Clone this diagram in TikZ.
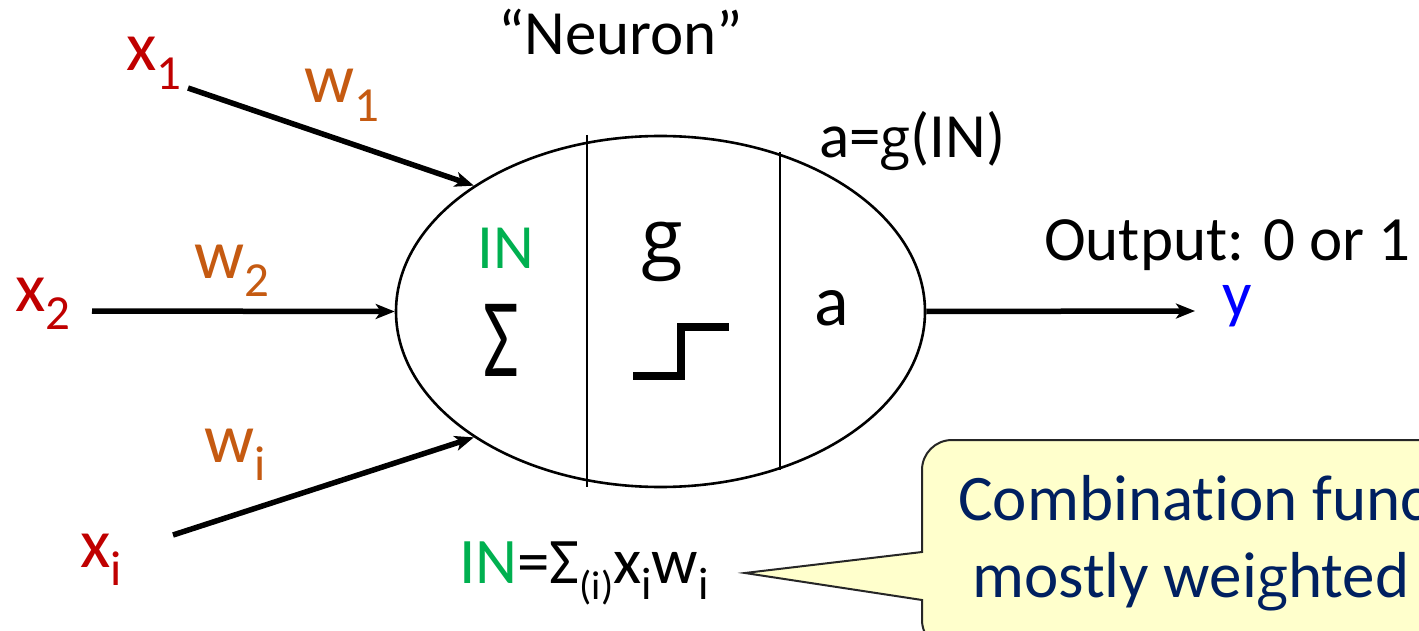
\documentclass[tikz,border=0pt]{standalone}
\usepackage{fontspec}
\setmainfont{Carlito}[Ligatures=NoCommon]
\newfontfamily\gfont{Open Sans}
\usetikzlibrary{arrows.meta,shapes.geometric}
\definecolor{inred}{HTML}{C00000}
\definecolor{wgt}{HTML}{C55A11}
\definecolor{ingreen}{HTML}{00B050}
\definecolor{outblue}{HTML}{0000FF}
\definecolor{navy}{HTML}{002060}
\definecolor{callfill}{HTML}{FFFFCC}
\newcommand\lowsub[2][0.7]{\raisebox{-0.26em}{\scalebox{#1}{#2}}}
\newcommand\twostoryg{{\gfont\scalebox{0.87}{g}}}
\tikzset{
  txt/.style={inner sep=0pt, anchor=base west, font=\fontsize{63}{75}\selectfont},
  lbl/.style={inner sep=0pt, anchor=base west, font=\fontsize{70}{84}\selectfont},
  big/.style={inner sep=0pt, anchor=base},
  arr/.style={line width=5.5pt, -{Stealth[length=19pt,width=15pt,inset=5pt]}},
  divider/.style={line width=2pt},
  callout/.style={draw=black!85, line width=2pt, fill=callfill},
  calltxt/.style={inner sep=0pt, anchor=base west, text=navy, font=\fontsize{65}{78}\selectfont},
}
\begin{document}
\begin{tikzpicture}[x=1pt,y=-1pt]
\useasboundingbox (0,0) rectangle (1419,631);
\clip (0,0) rectangle (1419,631);
\fill[white] (0,0) rectangle (1419,631);

% neuron body
\node[draw, line width=2.6pt, ellipse, minimum width=529pt, minimum height=351pt, inner sep=0pt] (neuron) at (660.5,311.5) {};
\draw[divider] (587,135) -- (587,487);
\draw[divider] (780,152) -- (780,470);

% inside texts
\node[txt, text=ingreen, font=\fontsize{63}{75}\selectfont] (inlbl) at (477,269) {IN};
\node[big, font=\fontsize{90}{100}\selectfont] (sigma) at (501,376) {\scalebox{0.86}[1.25]{Σ}};
\node[big, font=\gfont\fontsize{76}{90}\selectfont] (glbl) at (662,263) {g};
\node[big, font=\fontsize{72}{86}\selectfont] (albl) at (832,325) {a};
\draw[line width=8pt] (633,376) -- (681,376) -- (681,327) -- (729,327);

% headings
\node[txt] (title) at (498,55) {“Neuron”};
\node[txt] (aeq) at (819,158) {a=\twostoryg(IN)};
\node[txt] (outlbl) at (1044,260) {Output: 0 or 1};
\node[txt, text=outblue, font=\fontsize{65}{78}\selectfont] (ylbl) at (1222,316) {y};

% inputs
\node[lbl, text=inred] (x1) at (126,71) {x\lowsub{1}};
\node[lbl, text=inred] (x2) at (15,311) {x\lowsub{2}};
\node[lbl, text=inred] (xi) at (80,567) {x\lowsub{i}};
\node[lbl, text=wgt] (w1) at (304,103) {w\lowsub{1}};
\node[lbl, text=wgt] (w2) at (194,278) {w\lowsub{2}};
\node[lbl, text=wgt] (wi) at (204,462) {w\lowsub{i}};

\coordinate (s1) at (188,88);
\coordinate (s2) at (92,311);
\coordinate (si) at (173,535);
\coordinate (yend) at (1195,311);
\draw[arr] (s1) -- (neuron.146);
\draw[arr] (s2) -- (neuron.west);
\draw[arr] (si) -- (neuron.214);
\draw[arr] (neuron.east) -- (yend);

% formula
\node[txt, font=\fontsize{65}{78}\selectfont] (formula) at (459,583)
  {\textcolor{ingreen}{IN}=Σ\lowsub[0.62]{(i)}x\lowsub{i}w\lowsub{i}};

% callout
\coordinate (tip) at (745,573);
\draw[callout] (tip) -- (922,552) [rounded corners=30pt] -- (922,440) -- (1480,440) -- (1480,650) -- (922,650) [sharp corners] -- (922,600) -- cycle;
\node[calltxt] (comb) at (958,520) {Combination func};
\node[calltxt] (mostly) at (972,597) {mostly wei\twostoryg hted};
\end{tikzpicture}
\end{document}
